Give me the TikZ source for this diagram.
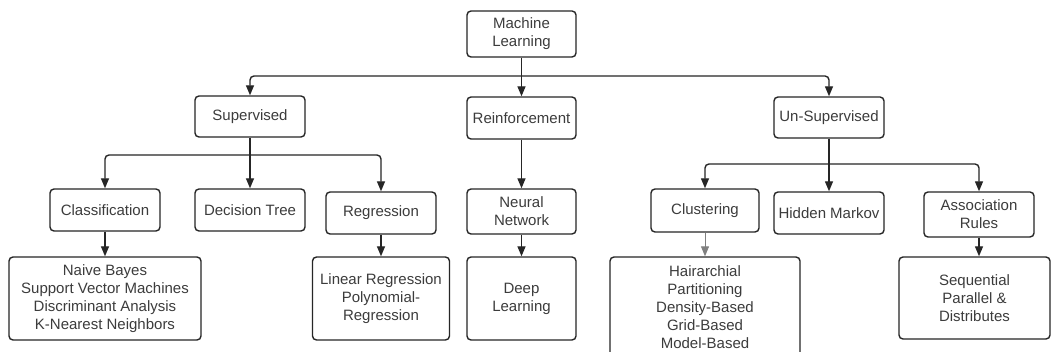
\documentclass[tikz,border=0pt]{standalone}
\usepackage{fontspec}
\setmainfont{Liberation Sans}
\usepackage{xcolor}
\usetikzlibrary{arrows.meta}
\definecolor{linec}{HTML}{262626}
\definecolor{textc}{HTML}{3C3C3C}

\begin{document}
\begin{tikzpicture}[x=1pt, y=-1pt,
  box/.style={draw=linec, line width=1.4pt, rounded corners=4pt, fill=white,
              text=textc, align=center, inner sep=0pt,
              font=\fontsize{15}{18}\selectfont,
              minimum width=110pt, minimum height=42pt},
  lst/.style={box, minimum height=83pt},
  arr/.style={-{Triangle[length=10pt,width=8pt]}, line width=1.4pt,
              draw=linec, rounded corners=4pt},
]
  \fill[white] (0,0) rectangle (1054,352);
  \clip (0,0) rectangle (1054,352);
  % level 1 and 2
  \node[box, minimum width=109pt, minimum height=46pt] (ml) at (521.5,34) {Machine\\Learning};
  \node[box, minimum height=41pt] (sup) at (250,116.5) {Supervised};
  \node[box, minimum width=109pt] (rein) at (521.5,118) {Reinforcement};
  \node[box, minimum height=41pt] (unsup) at (829,117.5) {Un-Supervised};
  % level 3
  \node[box] (cls) at (105,210) {Classification};
  \node[box] (dt) at (250,210) {Decision Tree};
  \node[box] (reg) at (381,213) {Regression};
  \node[box, minimum width=109pt, minimum height=45pt] (nn) at (521.5,211.5) {Neural\\Network};
  \node[box, minimum width=108pt, minimum height=43pt] (clu) at (705,210.5) {Clustering};
  \node[box] (hm) at (829,213) {Hidden Markov};
  \node[box, minimum height=45pt] (ar) at (979,214.5) {Association\\Rules};
  % level 4
  \node[lst, minimum width=192pt] (clsl) at (105,298.5) {Naive Bayes\\Support Vector Machines\\Discriminant Analysis\\K-Nearest Neighbors};
  \node[lst, minimum width=137pt] (regl) at (381,298.5) {Linear Regression\\Polynomial-\\Regression};
  \node[lst, minimum width=109pt] (dl) at (521.5,298.5) {Deep\\Learning};
  \node[box, minimum width=190pt, minimum height=100pt] (clul) at (705,307) {Hairarchial\\Partitioning\\Density-Based\\Grid-Based\\Model-Based};
  \node[lst, minimum width=151pt, minimum height=82pt] (arl) at (974.5,298) {Sequential\\Parallel \&\\Distributes};

  \coordinate (mlbus) at (521.5,76);
  \coordinate (supbus) at (250,155);
  \coordinate (unsupbus) at (829,164);

  \draw[arr] (ml) -- (rein);
  \draw[arr] (mlbus) -| (sup);
  \draw[arr] (mlbus) -| (unsup);

  \draw[arr] (sup) -- (dt);
  \draw[arr] (supbus) -| (cls);
  \draw[arr] (supbus) -| (reg);

  \draw[arr] (unsup) -- (hm);
  \draw[arr] (unsupbus) -| (clu);
  \draw[arr] (unsupbus) -| (ar);

  \draw[arr] (cls) -- (clsl);
  \draw[arr] (reg) -- (regl);
  \draw[arr] (rein) -- (nn);
  \draw[arr] (nn) -- (dl);
  \draw[arr, draw=gray, line width=1pt] (clu) -- (clul);
  \draw[arr] (ar) -- (ar |- arl.north);
\end{tikzpicture}
\end{document}
